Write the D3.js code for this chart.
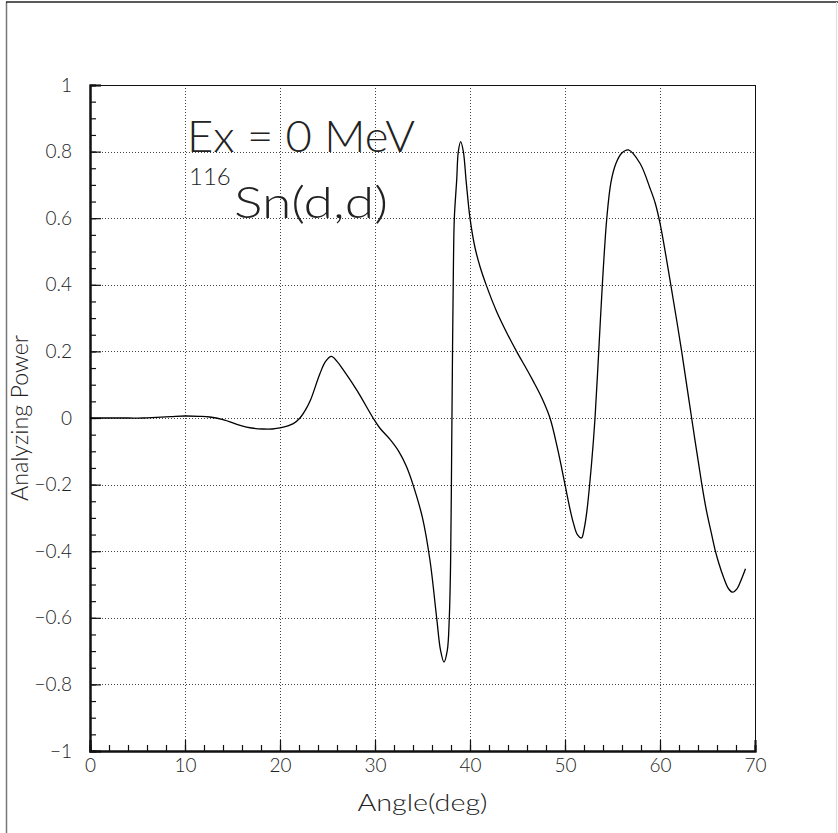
<!DOCTYPE html>
<html>
<head>
<meta charset="utf-8">
<script src="https://cdn.jsdelivr.net/npm/d3@7"></script>
<style>
  html, body { margin: 0; padding: 0; background: #fff; }
  svg { display: block; }
</style>
</head>
<body>
<svg id="chart" width="838" height="833"></svg>
<script>
// Analyzing power of 116Sn(d,d) elastic scattering, Ex = 0 MeV
const angles = [0, 2, 4, 5.6, 7, 8.5, 10, 11.5, 12.6, 14.0, 15.8, 17.0, 18.2, 19.2, 20.0,
  21.4, 22.1, 22.7, 23.2, 24.2, 24.8, 25.4, 26.0, 26.7, 28.1, 29.8, 30.5, 31.6, 32.5,
  33.3, 34.0, 35.0, 35.79, 36.49, 36.9, 37.26, 37.61, 37.82, 37.96, 38.07, 38.16,
  38.25, 38.35, 38.6, 38.77, 39.02, 39.3, 39.6, 40.0, 40.5, 41.05, 41.75, 42.8, 43.8, 44.9,
  46.0, 46.67, 47.6, 48.42, 49.2, 50.0, 50.5, 50.88, 51.3, 51.75, 52.0, 52.28, 52.8,
  53.16, 53.55, 53.93, 54.4, 54.85, 55.37, 55.96, 56.67, 57.89, 58.95, 59.5, 60.0, 61.05, 62.28,
  63.33, 64.39, 64.9, 65.4, 65.79, 66.2, 66.67, 67.2, 67.65, 68.1, 68.42, 69.0];
const power = [0, 0, 0, 0.000, 0.002, 0.004, 0.006, 0.005, 0.003, -0.005, -0.022, -0.030, -0.033, -0.033, -0.030,
  -0.017, 0.000, 0.025, 0.053, 0.133, 0.170, 0.185, 0.170, 0.143, 0.083, 0.000, -0.030, -0.065, -0.100,
  -0.145, -0.200, -0.300, -0.428, -0.600, -0.698, -0.733, -0.698, -0.600, -0.430, -0.100, 0.200,
  0.445, 0.600, 0.715, 0.800, 0.830, 0.800, 0.710, 0.600, 0.515, 0.455, 0.396, 0.320, 0.260, 0.200,
  0.145, 0.110, 0.058, 0.000, -0.090, -0.200, -0.270, -0.315, -0.350, -0.360, -0.335, -0.285, -0.135,
  0.000, 0.200, 0.400, 0.600, 0.710, 0.765, 0.795, 0.805, 0.765, 0.690, 0.645, 0.585, 0.415, 0.200,
  0.000, -0.197, -0.280, -0.345, -0.395, -0.437, -0.477, -0.512, -0.523, -0.513, -0.495, -0.453];

const xMajor = [0, 10, 20, 30, 40, 50, 60, 70];
const yMajor = [-1, -0.8, -0.6, -0.4, -0.2, 0, 0.2, 0.4, 0.6, 0.8, 1];
const xLabel = "Angle(deg)";
const yLabel = "Analyzing Power";

const FONT = "Lato, Liberation Sans, Arial, sans-serif";
const svg = d3.select("#chart");
const plotL = 90, plotR = 755, plotT = 85, plotB = 751;

const x = d3.scaleLinear().domain([0, 70]).range([plotL, plotR]);
const y = d3.scaleLinear().domain([-1, 1]).range([plotB, plotT]);

// outer page frame
svg.append("line").attr("x1", 6.5).attr("x2", 6.5).attr("y1", 2).attr("y2", 833).attr("stroke", "#777").attr("stroke-width", 1.5);
svg.append("line").attr("x1", 6).attr("x2", 838).attr("y1", 2).attr("y2", 2).attr("stroke", "#222").attr("stroke-width", 1.5);
svg.append("line").attr("x1", 836.5).attr("x2", 836.5).attr("y1", 2).attr("y2", 833).attr("stroke", "#ddd").attr("stroke-width", 1);

// dotted grid
const grid = svg.append("g").attr("stroke", "#444").attr("stroke-width", 1).attr("stroke-dasharray", "1,2");
grid.selectAll(".gx").data(xMajor.slice(1, -1)).join("line")
  .attr("x1", d => Math.round(x(d)) + 0.5).attr("x2", d => Math.round(x(d)) + 0.5)
  .attr("y1", plotT).attr("y2", plotB);
grid.selectAll(".gy").data(yMajor.slice(1, -1)).join("line")
  .attr("y1", d => Math.round(y(d)) + 0.5).attr("y2", d => Math.round(y(d)) + 0.5)
  .attr("x1", plotL).attr("x2", plotR);

// plot frame (top and right)
svg.append("line").attr("x1", plotL).attr("x2", plotR + 0.5).attr("y1", plotT + 0.5).attr("y2", plotT + 0.5).attr("stroke", "#111");
svg.append("line").attr("x1", plotR + 0.5).attr("x2", plotR + 0.5).attr("y1", plotT).attr("y2", plotB).attr("stroke", "#111");

// axes: minor ticks then major ticks, drawn inward
const fmt = d => d3.format("")(d).replace("-", "\u2212 ");
const yMinorTicks = d3.range(-1, 1.0001, 0.05);
const xMinorTicks = d3.range(0, 70.0001, 2);

const yMinor = svg.append("g").attr("transform", `translate(${plotL},0)`)
  .call(d3.axisLeft(y).tickValues(yMinorTicks).tickSize(-6).tickFormat(""));
const yAx = svg.append("g").attr("transform", `translate(${plotL},0)`)
  .call(d3.axisLeft(y).tickValues(yMajor).tickSize(-11).tickPadding(18).tickFormat(fmt));
const xMinor = svg.append("g").attr("transform", `translate(0,${plotB})`)
  .call(d3.axisBottom(x).tickValues(xMinorTicks).tickSize(-6).tickFormat(""));
const xAx = svg.append("g").attr("transform", `translate(0,${plotB})`)
  .call(d3.axisBottom(x).tickValues(xMajor).tickSize(-11).tickPadding(8).tickFormat(fmt));

[yMinor, yAx, xMinor, xAx].forEach(g => {
  g.selectAll(".tick line").attr("stroke", "#111").attr("stroke-width", 1.2);
  g.select(".domain").attr("stroke", "#111").attr("stroke-width", 2);
  g.selectAll(".tick text").attr("font-family", FONT).attr("font-weight", 300)
    .attr("font-size", 19).attr("fill", "#222").style("white-space", "pre");
});

// axis titles
svg.append("text")
  .attr("x", (plotL + plotR) / 2).attr("y", 811)
  .attr("text-anchor", "middle")
  .attr("font-family", FONT).attr("font-weight", 300).attr("font-size", 24)
  .attr("fill", "#222")
  .attr("textLength", 130).attr("lengthAdjust", "spacingAndGlyphs")
  .text(xLabel);
svg.append("text")
  .attr("transform", `translate(28,${(plotT + plotB) / 2}) rotate(-90)`)
  .attr("text-anchor", "middle")
  .attr("font-family", FONT).attr("font-weight", 300).attr("font-size", 23)
  .attr("fill", "#222")
  .attr("textLength", 166).attr("lengthAdjust", "spacingAndGlyphs")
  .text(yLabel);

// annotation
const note = svg.append("g").attr("font-family", FONT).attr("font-weight", 300).attr("fill", "#222");
note.append("text").attr("x", 187).attr("y", 152).attr("font-size", 44)
  .attr("textLength", 228).attr("lengthAdjust", "spacingAndGlyphs")
  .text("Ex = 0 MeV");
note.append("text").attr("x", 189).attr("y", 185).attr("font-size", 24).text("116");
note.append("text").attr("x", 234).attr("y", 218).attr("font-size", 44)
  .attr("textLength", 154).attr("lengthAdjust", "spacingAndGlyphs")
  .text("Sn(d,d)");

// curve
const pts = angles.map((a, i) => [a, power[i]]);
const line = d3.line().x(d => x(d[0])).y(d => y(d[1])).curve(d3.curveCatmullRom.alpha(0.5));
svg.append("path").datum(pts)
  .attr("fill", "none").attr("stroke", "#000").attr("stroke-width", 1.3)
  .attr("d", line);
</script>
</body>
</html>
